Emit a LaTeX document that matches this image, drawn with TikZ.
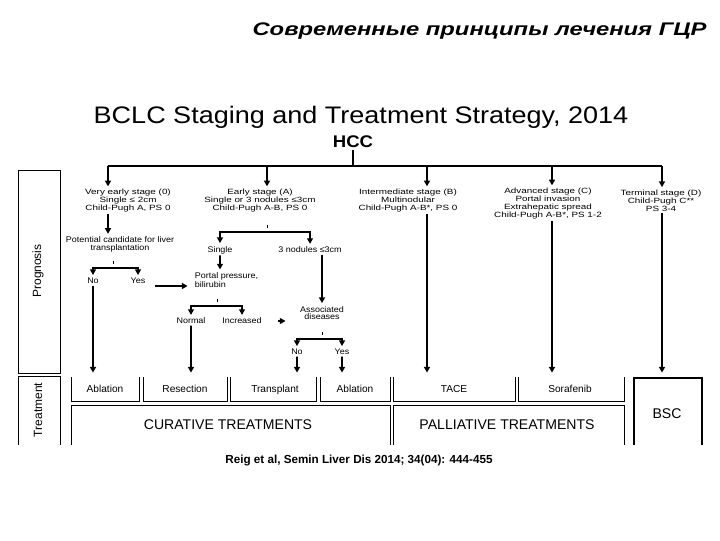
\documentclass[tikz,border=0pt]{standalone}
\usepackage{fontspec}
\setmainfont{Liberation Sans}
\usetikzlibrary{arrows.meta}

\begin{document}
\begin{tikzpicture}[x=0.025cm,y=-0.025cm,>={Triangle[length=4pt,width=4.2pt]},
  link/.style={line width=1.3pt},
  arr/.style={link,->,shorten >=1pt},
  frame/.style={line width=0.6pt},
  stage/.style={font=\fontsize{5.4}{5.7}\selectfont,align=center,inner sep=1pt,xscale=1.3},
  choice/.style={font=\fontsize{5.8}{5.4}\selectfont,align=center,inner sep=1pt,xscale=1.1},
  therapy/.style={font=\fontsize{7.2}{8}\selectfont,inner sep=1pt,anchor=base},
  group/.style={font=\fontsize{10}{12}\selectfont,inner sep=1pt},
  side/.style={font=\fontsize{8.5}{10}\selectfont,rotate=90,inner sep=1pt}]
\useasboundingbox (0,0) rectangle (720,540);

\node[anchor=east,font=\fontsize{13}{15}\selectfont\bfseries\itshape,xscale=1.3] (ru) at (713,31) {Современные принципы лечения ГЦР};
\node[font=\fontsize{17}{19}\selectfont,xscale=1.13] (bclc) at (361,117) {BCLC Staging and Treatment Strategy, 2014};
\node[font=\fontsize{12}{13}\selectfont\bfseries,xscale=1.1,inner sep=1pt] (hcc) at (353,142) {HCC};

\node[stage] (s0) at (128,201) {Very early stage (0)\\Single ≤ 2cm\\Child-Pugh A, PS 0};
\node[stage] (s1) at (260,201) {Early stage (A)\\Single or 3 nodules ≤3cm\\Child-Pugh A-B, PS 0};
\node[stage] (s2) at (408,201) {Intermediate stage (B)\\Multinodular\\Child-Pugh A-B*, PS 0};
\node[stage] (s3) at (548,204) {Advanced stage (C)\\Portal invasion\\Extrahepatic spread\\Child-Pugh A-B*, PS 1-2};
\node[stage] (s4) at (661,201) {Terminal stage (D)\\Child-Pugh C**\\PS 3-4};

\node[choice] (pc) at (120,244.5) {Potential candidate for liver\\transplantation};
\node[choice] (n0) at (93,281) {No};
\node[choice] (y0) at (138,281) {Yes};
\node[choice,align=left,anchor=west] (pp) at (193,280) {Portal pressure,\\bilirubin};
\node[choice] (sg) at (220,250) {Single};
\node[choice] (tn) at (310,250) {3 nodules ≤3cm};
\node[choice] (nm) at (191,321) {Normal};
\node[choice] (ic) at (242,321) {Increased};
\node[choice] (ad) at (322,313) {Associated\\diseases};
\node[choice] (n1) at (297,352) {No};
\node[choice] (y1) at (342,352) {Yes};

\node[therapy] (ab1) at (105,392) {Ablation};
\node[therapy] (rs) at (185,392) {Resection};
\node[therapy] (tp) at (275,392) {Transplant};
\node[therapy] (ab2) at (355,392) {Ablation};
\node[therapy] (tc) at (454,392) {TACE};
\node[therapy] (sf) at (570,392) {Sorafenib};
\node[group] (cur) at (228,425) {CURATIVE TREATMENTS};
\node[group] (pal) at (507,425) {PALLIATIVE TREATMENTS};
\node[group] (bsc) at (667,414) {BSC};
\node[side] (prog) at (38,271) {Prognosis};
\node[side] (trt) at (38,410) {Treatment};
\node[font=\fontsize{8.3}{10}\selectfont\bfseries] (ref) at (359,460) {Reig et al, Semin Liver Dis 2014; 34(04): 444-455};

\coordinate (b0) at (108,166);
\coordinate (b1) at (267,166);
\coordinate (b2) at (427,166);
\coordinate (b3) at (552,166);
\coordinate (b4) at (662,166);
\coordinate (trow) at (0,374);
\coordinate (k0) at (113,268);
\coordinate (k1) at (267,232);
\coordinate (k2) at (217,306);
\coordinate (k3) at (322,339);

\draw[link] (hcc.south) -- (hcc.south|-b0);
\draw[link] (b0) -- (b4);
\foreach \i in {0,...,4}
  \draw[arr] (b\i) -- (b\i|-s\i.north);
\foreach \k in {0,...,3}
  \draw[frame] (k\k) ++(0,-7) -- ++(0,2.5);

\draw[arr] (s0.south-|b0) -- (b0|-pc.north);
\draw[arr] (k0) -| (n0);
\draw[arr] (k0) -| (y0);
\draw[arr] ([shift={(8,5)}]y0.east) -- ([shift={(-4,6)}]pp.west);
\draw[arr] (k1) -| (sg);
\draw[arr] (k1) -| (tn);
\draw[arr] (sg) -- (sg|-pp.north);
\draw[arr] (k2) -| (nm);
\draw[arr] (k2) -| (ic);
\draw[arr] ([xshift=10]ic.east) -- ([xshift=-8]ad.west|-ic);
\draw[arr] (ad|-tn.south) -- (ad.north);
\draw[arr] (k3) -| (n1);
\draw[arr] (k3) -| (y1);
\draw[arr] (n0) -- (n0|-trow);
\draw[arr] (nm) -- (nm|-trow);
\draw[arr] (n1) -- (n1|-trow);
\draw[arr] (y1) -- (y1|-trow);
\draw[arr] (s2.south-|b2) -- (b2|-trow);
\draw[arr] (s3.south-|b3) -- (b3|-trow);
\draw[arr] (s4.south-|b4) -- (b4|-trow);

\foreach \a/\b in {71/139,143/227,230/316,320/390,393/515,518/624}
  \draw[frame] (\a,377) |- (\b,401) -- (\b,377);
\draw[frame] (71,445) |- (390,405) -- (390,445);
\draw[frame] (393,445) |- (624,405) -- (624,445);
\draw[line width=0.9pt] (634,445) |- (702,378) -- (702,445);
\draw[frame] (18,170) rectangle (60,373);
\draw[frame] (18,445) |- (60,376) -- (60,445);
\end{tikzpicture}
\end{document}
